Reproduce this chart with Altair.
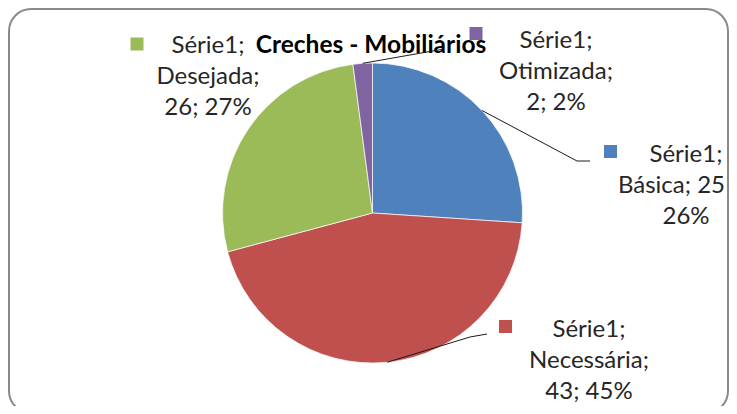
import altair as alt
import pandas as pd
import math

# ---- data ----
series_name = "Série1"
categories = ["Básica", "Necessária", "Desejada", "Otimizada"]
values = [25, 43, 26, 2]
colors = ["#4F81BD", "#C0504D", "#9BBB59", "#8064A2"]
title_text = "Creches - Mobiliários"

total = sum(values)
percents = [round(v * 100 / total) for v in values]

# ---- layout (view pixel coordinates) ----
W, H = 721, 398
CX, CY, R = 364.5, 205, 150
FONT = "Lato"
LABEL_SIZE = 24
LINE_GAP = 31
label_anchor = {  # center x, first baseline y
    "Básica": (678, 154),
    "Necessária": (581, 329),
    "Desejada": (200, 45),
    "Otimizada": (548, 40),
}
# lines pushed against the right edge of the frame: (category, line index) -> right x
right_edge_lines = {("Básica", 1): 717}
key_center = {
    "Básica": (602.5, 143.5),
    "Necessária": (497.5, 318.5),
    "Desejada": (129, 36),
    "Otimizada": (468, 25.5),
}
leader_tail = {  # points after the pie edge
    "Básica": [(569, 153), (582, 153)],
    "Necessária": [(462, 329), (479, 326)],
    "Otimizada": [(436, 41)],
}
wrap_style = {"Básica": "b"}

# ---- build tables ----
pie_df = pd.DataFrame({
    "cat": categories, "val": values, "idx": list(range(len(categories)))
})

lines_rows = []
for c, v, p in zip(categories, values, percents):
    if wrap_style.get(c) == "b":
        lines = [f"{series_name};", f"{c}; {v}", f"{p}%"]
    else:
        lines = [f"{series_name};", f"{c};", f"{v}; {p}%"]
    x0, y0 = label_anchor[c]
    for j, t in enumerate(lines):
        if (c, j) in right_edge_lines:
            lines_rows.append({"cat": c, "text": t, "px": right_edge_lines[(c, j)],
                               "py": y0 + j * LINE_GAP, "al": "right"})
        else:
            lines_rows.append({"cat": c, "text": t, "px": x0,
                               "py": y0 + j * LINE_GAP, "al": "center"})
lines_df = pd.DataFrame(lines_rows)

key_df = pd.DataFrame([
    {"cat": c, "px": key_center[c][0], "py": key_center[c][1]} for c in categories
])

leader_rows = []
cum = 0
for c, v in zip(categories, values):
    mid = (cum + v / 2) / total * 2 * math.pi
    cum += v
    if c not in leader_tail:
        continue
    sx = CX + R * math.sin(mid)
    sy = CY - R * math.cos(mid)
    pts = [(sx, sy)] + leader_tail[c]
    for k, (x, y) in enumerate(pts):
        leader_rows.append({"cat": c, "k": k, "px": x, "py": y})
leader_df = pd.DataFrame(leader_rows)

color_scale = alt.Scale(domain=categories, range=colors)

frame = alt.Chart(pd.DataFrame({"f": [0]})).mark_rect(
    fill="white", stroke="#8a8a8a", strokeWidth=2, cornerRadius=22,
).encode(
    x=alt.value(1), x2=alt.value(W - 1), y=alt.value(1), y2=alt.value(H + 7),
)

pie = alt.Chart(pie_df).mark_arc(outerRadius=R, stroke="white", strokeWidth=0.7).encode(
    theta=alt.Theta("val:Q", stack=True),
    order=alt.Order("idx:Q"),
    color=alt.Color("cat:N", scale=color_scale, legend=None),
    x=alt.value(CX), y=alt.value(CY),
)

title = alt.Chart(pd.DataFrame({"t": [title_text]})).mark_text(
    font=FONT, fontSize=24.5, fontWeight="bold", color="#000000",
    align="center", baseline="alphabetic",
).encode(text="t:N", x=alt.value(363), y=alt.value(45))

leaders = alt.Chart(leader_df).mark_line(color="#1a1a1a", strokeWidth=1).encode(
    x=alt.X("px:Q", scale=None), y=alt.Y("py:Q", scale=None),
    detail="cat:N", order="k:Q",
)

keys = alt.Chart(key_df).mark_square(size=169, opacity=1).encode(
    x=alt.X("px:Q", scale=None), y=alt.Y("py:Q", scale=None),
    color=alt.Color("cat:N", scale=color_scale, legend=None),
)

label_base = alt.Chart(lines_df).encode(
    x=alt.X("px:Q", scale=None), y=alt.Y("py:Q", scale=None), text="text:N",
)
labels_c = label_base.transform_filter(alt.datum.al == "center").mark_text(
    font=FONT, fontSize=LABEL_SIZE, color="#262626",
    align="center", baseline="alphabetic",
)
labels_r = label_base.transform_filter(alt.datum.al == "right").mark_text(
    font=FONT, fontSize=LABEL_SIZE, color="#262626",
    align="right", baseline="alphabetic",
)

chart = alt.layer(frame, pie, title, leaders, keys, labels_c, labels_r).properties(
    width=W, height=H, autosize=alt.AutoSizeParams(type="none"), padding=0,
).configure_view(
    strokeWidth=0,
)

chart.save("out.html", embed_options={"renderer": "svg", "actions": False})
